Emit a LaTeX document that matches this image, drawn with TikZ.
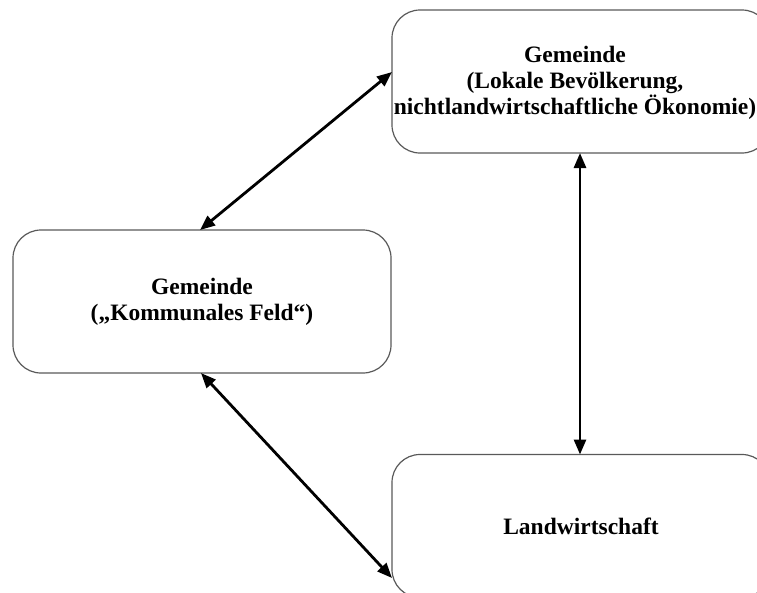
\documentclass[tikz,border=0pt]{standalone}
\usepackage{fontspec}
\setmainfont{Liberation Serif}
\usetikzlibrary{arrows.meta}
\begin{document}
\begin{tikzpicture}[x=1pt,y=-1pt,
  box/.style={draw=black!65, line width=1.2pt, rounded corners=28pt,
    minimum width=378pt, minimum height=143pt, inner sep=0pt, outer sep=0pt},
  lab/.style={font=\fontsize{23.5}{26}\selectfont\bfseries, align=center},
  link/.style={line width=2.8pt, black,
    {Triangle[length=15pt,width=12pt]}-{Triangle[length=15pt,width=12pt]}}]
\useasboundingbox (0,0) rectangle (757,592);
\clip (0,0) rectangle (757,592);
\node[box, label={[lab, xshift=-6pt, yshift=-1pt]center:{Gemeinde\\(Lokale Bevölkerung,\\nichtlandwirtschaftliche Ökonomie)}}] (top) at (581,81.5) {};
\node[box, lab] (left) at (202,301.5) {Gemeinde\\(„Kommunales Feld“)};
\node[box, lab] (bot) at (581,526) {Landwirtschaft};
\draw[link] ([yshift=9.5pt]top.west) -- ([xshift=-2pt]left.north);
\draw[link] ([xshift=-1pt]left.south) -- ([yshift=-52pt]bot.west);
\draw[link] ([xshift=-1pt]top.south) -- ([xshift=-1pt]bot.north);
\end{tikzpicture}
\end{document}
